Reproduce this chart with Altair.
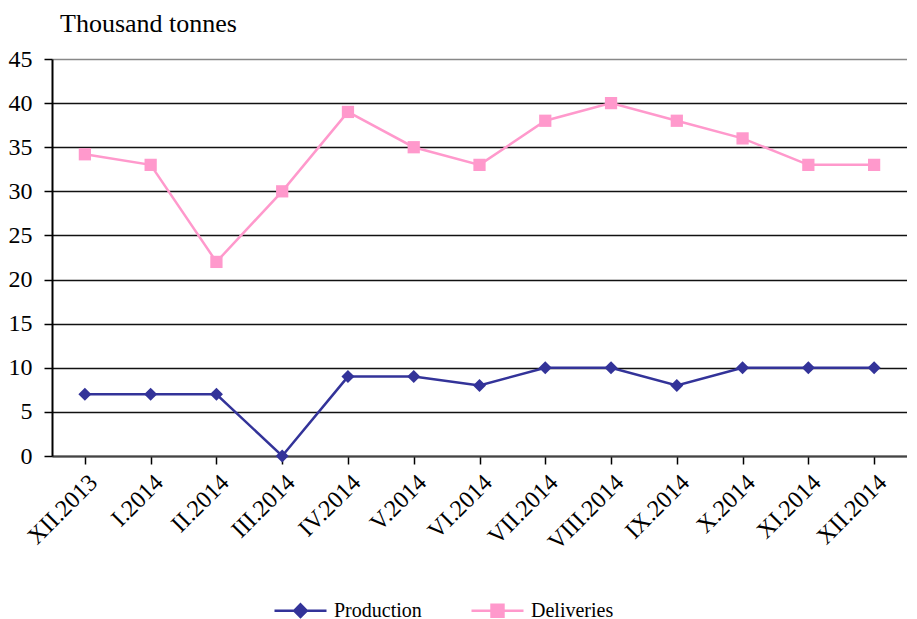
import altair as alt
import pandas as pd

months = ["XII.2013", "I.2014", "II.2014", "III.2014", "IV.2014", "V.2014", "VI.2014",
          "VII.2014", "VIII.2014", "IX.2014", "X.2014", "XI.2014", "XII.2014"]
production = [7, 7, 7, 0, 9, 9, 8, 10, 10, 8, 10, 10, 10]
deliveries = [34.2, 33, 22, 30, 39, 35, 33, 38, 40, 38, 36, 33, 33]
series_names = ["Production", "Deliveries"]
series_colors = ["#333399", "#ff99cc"]
series_shapes = ["diamond", "square"]

rows = []
for m, p, d in zip(months, production, deliveries):
    rows.append({"month": m, "series": "Production", "value": p})
    rows.append({"month": m, "series": "Deliveries", "value": d})
df = pd.DataFrame(rows)

FONT = "Liberation Serif"

x = alt.X("month:N", sort=months, title=None,
          scale=alt.Scale(paddingInner=0, paddingOuter=0),
          axis=alt.Axis(labelAngle=-45, labelFont=FONT, labelFontSize=24, labelColor="black",
                        domainColor="#444", domainWidth=2, tickColor="black", tickSize=8,
                        tickWidth=1.5, bandPosition=0, labelPadding=6, grid=False))
y = alt.Y("value:Q", title=None,
          scale=alt.Scale(domain=[0, 45], nice=False),
          axis=alt.Axis(values=list(range(0, 50, 5)), labelFont=FONT, labelFontSize=24,
                        labelColor="black", domainColor="black", domainWidth=2,
                        tickColor="black", tickSize=8, tickWidth=1.5, labelPadding=12,
                        gridColor={"condition": {"test": "datum.value == 45", "value": "#888888"},
                                   "value": "#111111"},
                        gridWidth=1.4))

base = alt.Chart(df)

layers = []
for name, colr, shp, sz in zip(series_names, series_colors, series_shapes, [170, 150]):
    sub = base.transform_filter(alt.datum.series == name)
    layers.append(sub.mark_line(strokeWidth=2.5, color=colr).encode(x=x, y=y))
    layers.append(sub.mark_point(shape=shp, filled=True, size=sz, opacity=1, color=colr).encode(x=x, y=y))

leg = alt.Legend(title=None, orient="none", direction="horizontal", legendX=221, legendY=524,
                 labelFont=FONT, labelFontSize=20, labelColor="black", labelOffset=6,
                 columnPadding=44, symbolSize=2704, symbolStrokeWidth=2.5, padding=0)

shape_paths = [
    "M-1,0L1,0M0,-0.24L0.24,0L0,0.24L-0.24,0Z",
    "M-1,0L1,0M-0.23,-0.23L0.23,-0.23L0.23,0.23L-0.23,0.23Z",
]

legend_layer = base.transform_filter("false").mark_point(filled=True, opacity=1).encode(
    x=x, y=y,
    color=alt.Color("series:N", scale=alt.Scale(domain=series_names, range=series_colors), legend=leg),
    stroke=alt.Stroke("series:N", scale=alt.Scale(domain=series_names, range=series_colors), legend=leg),
    shape=alt.Shape("series:N", scale=alt.Scale(domain=series_names, range=shape_paths), legend=leg))
layers.append(legend_layer)

chart = alt.layer(*layers).properties(
    width=855, height=397,
    padding={"left": 0, "top": 3, "right": 0, "bottom": 0},
    title=alt.TitleParams("Thousand tonnes", anchor="start", frame="group", font=FONT,
                          fontSize=26, fontWeight="normal", color="black", dx=8, offset=10),
).configure(font=FONT).configure_legend(labelFont=FONT).configure_axis(labelFont=FONT
).configure_view(stroke=None)

chart.save("out.html", embed_options={"renderer": "svg", "actions": False})
